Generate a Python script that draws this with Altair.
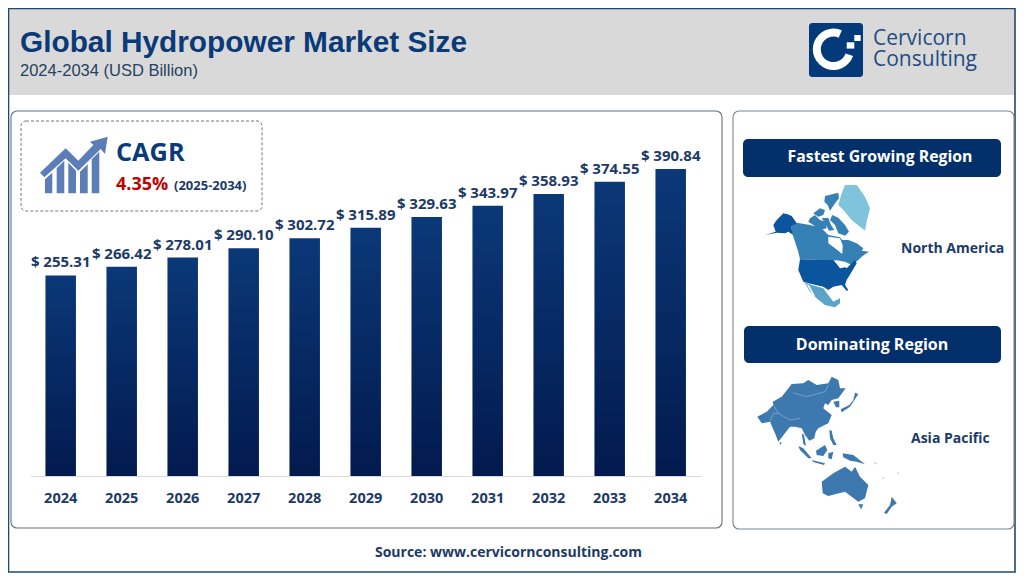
import altair as alt

years = ["2024","2025","2026","2027","2028","2029","2030","2031","2032","2033","2034"]
values = [255.31,266.42,278.01,290.10,302.72,315.89,329.63,343.97,358.93,374.55,390.84]
labels = ["$ " + format(v, ".2f") for v in values]

FONT = "Open Sans"
NAVY = "#03306b"
INK = "#1c3a68"
M = 8  # page margin

# outlines (crop coords: 3x, with an origin)
NA_ALASKA = [(115,100),(128,103),(140,108),(155,130),(138,140),(145,165),(130,155),(120,160),(95,158),(60,165),(92,155),(85,135),(95,120),(110,105)]
NA_CANADA = [(155,128),(195,135),(215,140),(235,150),(250,165),(285,172),(292,180),(310,180),(335,190),(355,205),(350,212),(372,215),(358,224),(350,230),(340,240),(320,255),(300,245),(270,240),(230,240),(165,238),(160,215),(145,170),(138,140)]
NA_ARCTIC = [
    [(240,48),(280,38),(282,55),(270,70),(255,92),(248,75),(238,65)],
    [(262,105),(280,113),(300,135),(312,155),(300,167),(280,160),(270,135),(255,120)],
    [(195,115),(210,105),(225,120),(240,125),(245,145),(225,150),(205,135),(190,125)],
    [(205,100),(225,85),(240,90),(235,105),(220,110)],
    [(230,115),(250,113),(258,135),(268,150),(252,152),(240,130)],
]
NA_HUDSON = [(250,170),(285,175),(293,195),(292,222),(270,205),(250,190)]
NA_GREENLAND = [(300,15),(335,15),(360,50),(375,85),(365,125),(360,152),(345,140),(320,120),(295,90),(280,75),(290,40)]
NA_USA = [(165,238),(230,240),(270,240),(290,255),(305,265),(330,240),(335,250),(320,275),(305,300),(300,315),(310,330),(305,333),(290,315),(265,320),(250,330),(235,320),(200,312),(175,305),(160,270)]
NA_LAKES = [(265,240),(285,245),(300,262),(285,265),(275,252)]
NA_BAJA_GULF = [(185,312),(192,315),(210,348),(203,346)]
NA_MEXICO = [(178,305),(200,315),(235,325),(250,345),(265,365),(285,355),(285,370),(270,382),(240,375),(215,355),(195,335)]

AP_MAIN = [(22,140),(50,125),(70,105),(68,95),(95,80),(125,42),(160,40),(175,30),(200,45),(235,40),(245,20),(265,30),(270,55),(287,55),(265,85),(245,90),(235,105),(225,100),(220,115),(245,135),(235,160),(205,175),(197,185),(193,205),(178,212),(165,195),(155,175),(135,170),(120,170),(85,215),(75,190),(60,155),(35,160)]
AP_ISLES = [
    [(155,190),(162,195),(168,228),(160,222)],
    [(250,95),(268,92),(268,112),(258,112)],
    [(315,68),(325,72),(310,95),(300,110),(275,127),(272,118),(298,105),(310,90)],
    [(88,215),(95,218),(92,225)],
    [(238,180),(245,182),(250,205),(260,225),(250,225),(240,205)],
    [(145,228),(160,235),(185,265),(175,265),(150,240)],
    [(198,242),(225,225),(232,240),(220,258),(200,255)],
    [(235,250),(250,245),(245,268),(235,265)],
    [(185,270),(225,280),(222,285),(190,276)],
    [(278,250),(310,255),(345,283),(320,275),(300,272),(280,262)],
    [(285,290),(305,305),(315,290),(330,320),(355,345),(345,385),(325,395),(305,380),(285,365),(235,378),(218,370),(215,335),(250,310)],
    [(325,403),(340,403),(333,418)],
    [(425,380),(440,400),(425,410),(410,432),(402,428),(420,405)],
]
AP_FAINT = [[(395,320),(405,324),(400,328)],[(440,308),(448,306),(444,314)],[(370,275),(382,280),(378,284)]]
AP_BORDERS = [[(130,68),(170,80),(225,65),(235,45)],[(70,105),(85,130),(120,150),(150,145)],[(60,155),(70,130),(85,130)]]

ICON_ARROW = [(15,128),(92,55),(130,92),(175,45),(165,35),(218,20),(210,72),(197,57),(130,122),(92,85),(28,142)]
ICON_BARS = [
    [(30,190),(30,148),(52,128),(52,190)],
    [(65,190),(65,115),(88,92),(88,190)],
    [(100,190),(100,98),(123,122),(123,190)],
    [(135,190),(135,125),(158,103),(158,190)],
    [(170,190),(170,88),(193,65),(193,190)],
]

one = alt.Data(values=[{"a": 1}])

def path(polys, ox, oy, close=True):
    out = []
    for p in polys:
        pts = [f"{ox + x/3:.1f},{oy + y/3:.1f}" for x, y in p]
        out.append("M" + "L".join(pts) + ("Z" if close else ""))
    return "".join(out)

def shape(polys, ox, oy, fill):
    return alt.Chart(one).mark_point(shape=path(polys, ox, oy), filled=True, fill=fill, size=4, strokeWidth=0, opacity=1).encode(
        x=alt.value(-M), y=alt.value(-M))

def lines(polys, ox, oy, color, w=0.6):
    return alt.Chart(one).mark_point(shape=path(polys, ox, oy, False), filled=False, stroke=color, size=4, strokeWidth=w, opacity=1).encode(
        x=alt.value(-M), y=alt.value(-M))

def box(x0, y0, x1, y1, **kw):
    return alt.Chart(one).mark_rect(**kw).encode(
        x=alt.value(x0 - M), x2=alt.value(x1 - M), y=alt.value(y0 - M), y2=alt.value(y1 - M))

def text(s, x, y, size, color=INK, weight="bold", font=FONT, align="left"):
    return alt.Chart(one).mark_text(font=font, fontSize=size, fontWeight=weight, color=color, align=align, baseline="middle").encode(
        x=alt.value(x - M), y=alt.value(y - M), text=alt.value(s))

deco = [
    box(M, M, 1015, 95, fill="#d9d9d9"),
    box(M + 0.5, M + 0.5, 1015, 572, fill=None, stroke="#1f4a75", strokeWidth=1.6),
    box(11, 111, 722, 528, fill="white", stroke="#66717f", strokeWidth=1.1, cornerRadius=6),
    box(733, 111, 1014, 529, fill="white", stroke="#7d8690", strokeWidth=1.1, cornerRadius=6),
    box(21, 121, 262, 211, fill="white", stroke="#777777", strokeWidth=1, strokeDash=[3, 2], cornerRadius=5),
    text("Global Hydropower Market Size", 20, 43, 29.8, color="#0a3a78", font="Liberation Sans"),
    text("2024-2034 (USD Billion)", 20, 71, 16.5, color="#26415f", weight="normal", font="Liberation Sans"),
    # logo
    box(809, 23, 863, 77, fill="#053a7a", cornerRadius=3),
    alt.Chart(one).mark_arc(fill="white", theta=1.9, theta2=6.7, radius=20.7, radius2=12.7).encode(
        x=alt.value(833.5 - M), y=alt.value(49.3 - M)),
    box(846.7, 42.3, 854.3, 48.6, fill="white"),
    box(854.3, 35, 860.7, 41, fill="white"),
    text("Cervicorn", 873, 39, 21, color="#1e4c83", weight=500),
    text("Consulting", 873, 60, 21, color="#1e4c83", weight=500),
    # CAGR badge
    shape(ICON_BARS, 35, 130, "#5b7db8"),
    shape([ICON_ARROW], 35, 130, "#5b7db8"),
    text("CAGR", 116, 153, 25.3, color="#0a3a78"),
    text("4.35%", 116, 185, 18, color="#c00000"),
    text("(2025-2034)", 174, 186, 13),
    # right panel
    box(743, 139, 1001, 177, fill=NAVY, cornerRadius=5),
    text("Fastest Growing Region", 880, 157, 15.8, color="white", align="center"),
    box(744, 326, 1001, 363, fill=NAVY, cornerRadius=5),
    text("Dominating Region", 872, 345, 16, color="white", align="center"),
    text("North America", 901, 249, 14),
    text("Asia Pacific", 911, 439, 14),
    shape([NA_GREENLAND], 745, 180, "#7fc4dc"),
    shape([NA_CANADA] + NA_ARCTIC, 745, 180, "#3580b5"),
    shape([NA_ALASKA, NA_USA], 745, 180, "#0b559f"),
    shape([NA_MEXICO], 745, 180, "#5aa3cb"),
    shape([NA_HUDSON, NA_LAKES, NA_BAJA_GULF], 745, 180, "white"),
    shape([AP_MAIN] + AP_ISLES, 750, 370, "#3d78af"),
    shape(AP_FAINT, 750, 370, "#c6d6e6"),
    lines(AP_BORDERS, 750, 370, "#9dbcd8"),
    text("Source: www.cervicornconsulting.com", 508.5, 553, 14, align="center"),
]

table = alt.Data(values=[{"year": y, "value": v, "label": l} for y, v, l in zip(years, values, labels)])

x_scale = alt.Scale(domain=years, range=[30.2 - M, 701.2 - M], paddingInner=0.5, paddingOuter=0.25)
y_scale = alt.Scale(domain=[0, 400], range=[476 - M, 476 - M - 314.2], nice=False)

grad = alt.Gradient(gradient="linear", x1=0, x2=0, y1=0, y2=1,
                    stops=[alt.GradientStop(color="#0b3878", offset=0), alt.GradientStop(color="#021a4e", offset=1)])

bars = alt.Chart(table).mark_bar(fill=grad).encode(
    x=alt.X("year:N", scale=x_scale, sort=years, axis=alt.Axis(
        title=None, offset=-100, labelAngle=0, ticks=False, zindex=1,
        domainColor="#d9d9d9", domainWidth=1.2, labelFont=FONT, labelFontSize=14.5,
        labelFontWeight="bold", labelColor=INK, labelPadding=15)),
    y=alt.Y("value:Q", scale=y_scale, axis=None),
)
vals = alt.Chart(table).mark_text(font=FONT, fontSize=15, fontWeight="bold", color=INK, baseline="bottom", dy=-5).encode(
    x=alt.X("year:N", scale=x_scale, sort=years),
    y=alt.Y("value:Q", scale=y_scale),
    text="label:N",
)

chart = alt.layer(*deco, bars, vals).properties(
    width=1008, height=568, padding=0, autosize=alt.AutoSizeParams(type="none"),
).configure_view(stroke=None)

chart.save("out.html", embed_options={"renderer": "svg", "actions": False})
